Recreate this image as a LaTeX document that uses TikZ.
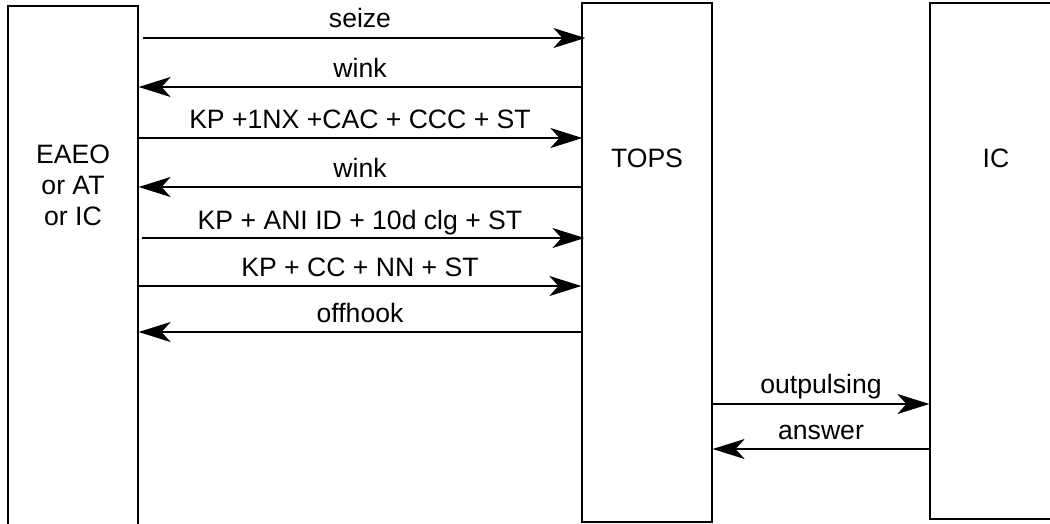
\documentclass[tikz,border=0pt]{standalone}
\usepackage{fontspec}
\setmainfont{Liberation Sans}
\usetikzlibrary{arrows.meta}
\tikzset{
  box/.style={draw=black, line width=1.2pt, fill=none, inner sep=0pt, rectangle},
  lbl/.style={font=\fontsize{26.6}{31}\selectfont, inner sep=0pt, align=center},
  msg/.style={line width=2pt, -{Stealth[length=32pt, width=20pt, inset=9pt]}},
  mlab/.style={font=\fontsize{26.6}{31}\selectfont, inner sep=0pt, anchor=base, midway, yshift=9.5pt}
}
\begin{document}
\begin{tikzpicture}[x=1pt, y=-1pt]
\useasboundingbox (0,0) rectangle (1050,523);
% boxes
\node[box, minimum width=130pt, minimum height=532pt] (src) at (73,272) {};
\node[box, minimum width=130pt, minimum height=519pt] (tops) at (647,262.5) {};
\node[box, minimum width=132pt, minimum height=516pt] (ic) at (996,261) {};
% box labels
\node[lbl] (srclbl) at (73,185.5) {EAEO\\or AT\\or IC};
\node[lbl, anchor=base] (topslbl) at (647,167) {TOPS};
\node[lbl, anchor=base] (iclbl) at (996,167) {IC};
% messages
\draw[msg, shorten <=4pt, shorten >=-4pt] (src.east |- 0,38) -- (tops.west |- 0,38) node[mlab, yshift=1.5pt] {seize};
\draw[msg] (tops.west |- 0,87) -- (src.east |- 0,87) node[mlab] {wink};
\draw[msg, shorten >=-1pt] (src.east |- 0,138) -- (tops.west |- 0,138) node[mlab] {KP +1NX +CAC + CCC + ST};
\draw[msg] (tops.west |- 0,187) -- (src.east |- 0,187) node[mlab] {wink};
\draw[msg, shorten <=3pt, shorten >=-3pt] (src.east |- 0,238) -- (tops.west |- 0,238) node[mlab, yshift=-1pt] {KP + ANI ID + 10d clg + ST};
\draw[msg] (src.east |- 0,286) -- (tops.west |- 0,286) node[mlab] {KP + CC + NN + ST};
\draw[msg] (tops.west |- 0,332) -- (src.east |- 0,332) node[mlab] {offhook};
\draw[msg] (tops.east |- 0,404) -- (ic.west |- 0,404) node[mlab, yshift=1pt] {outpulsing};
\draw[msg] (ic.west |- 0,449) -- (tops.east |- 0,449) node[mlab] {answer};
\end{tikzpicture}
\end{document}
